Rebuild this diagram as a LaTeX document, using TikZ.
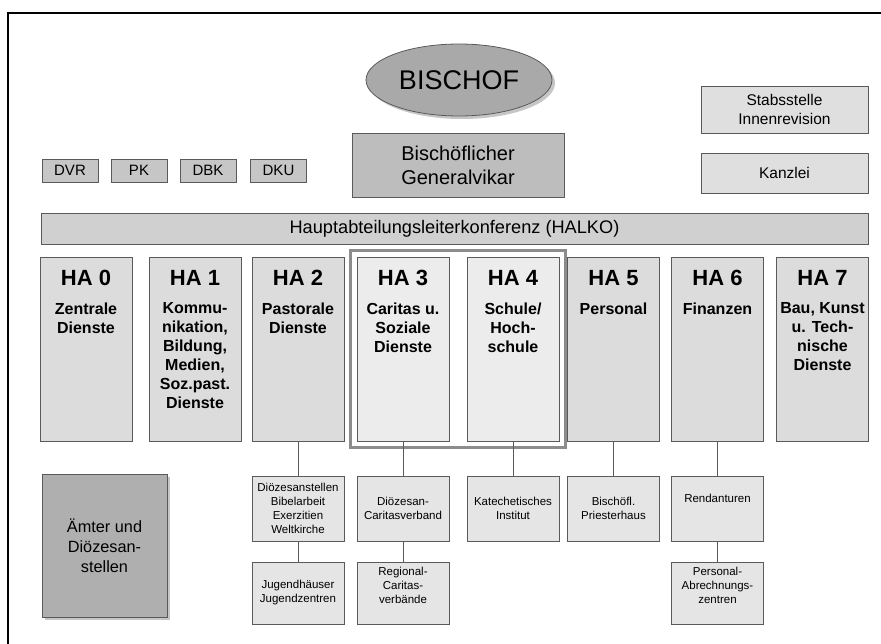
\documentclass[tikz,border=0pt]{standalone}
\usepackage{fontspec}
\setmainfont{Liberation Sans}
\usetikzlibrary{positioning,fit,shadows,shapes.geometric}
\definecolor{linegray}{HTML}{5A5A5A}
\definecolor{ovalgray}{HTML}{A9A9A9}
\definecolor{vikargray}{HTML}{BDBDBD}
\definecolor{kleingray}{HTML}{C6C6C6}
\definecolor{halkogray}{HTML}{D0D0D0}
\definecolor{stabgray}{HTML}{DFDFDF}
\definecolor{hagray}{HTML}{DCDCDC}
\definecolor{hallgray}{HTML}{ECECEC}
\definecolor{subgray}{HTML}{E5E5E5}
\definecolor{amtgray}{HTML}{AFAFAF}
\definecolor{framegray}{HTML}{8C8C8C}
\begin{document}
\begin{tikzpicture}[x=1pt,y=-1pt,
  box/.style={draw=linegray,line width=0.8pt,inner sep=0pt,align=center},
  kleinbox/.style={box,fill=kleingray,minimum width=56pt,minimum height=23pt,font=\fontsize{15}{18}\selectfont},
  stabbox/.style={box,fill=stabgray,minimum width=167pt,font=\fontsize{15.5}{19}\selectfont},
  habox/.style={box,fill=hagray,minimum width=92pt,minimum height=184pt},
  hatitle/.style={anchor=base,inner sep=0pt,font=\bfseries\fontsize{22}{26}\selectfont},
  hasub/.style={anchor=north,inner sep=0pt,align=center,font=\bfseries\fontsize{16}{19}\selectfont},
  subbox/.style={box,fill=subgray,minimum width=92pt,font=\fontsize{11.5}{14}\selectfont},
  link/.style={draw=linegray,line width=0.8pt}]
\useasboundingbox (0,0) rectangle (881,643);
\draw[line width=2pt] (8,13) rectangle (895,655);

\node[ellipse,draw=linegray,line width=0.8pt,fill=ovalgray,minimum width=186pt,minimum height=72pt,inner sep=0pt,
  drop shadow={shadow xshift=3pt,shadow yshift=-3pt,opacity=0.45},font=\fontsize{27}{30}\selectfont] (bischof) at (459,80) {BISCHOF};
\node[box,fill=vikargray,minimum width=212pt,minimum height=64pt,font=\fontsize{20}{24}\selectfont] (gv) at (458,165) {Bischöflicher\\Generalvikar};

\node[kleinbox] (dvr) at (70,170.5) {DVR};
\node[kleinbox] (pk) at (139,170.5) {PK};
\node[kleinbox] (dbk) at (208,170.5) {DBK};
\node[kleinbox] (dku) at (278.5,170.5) {DKU};

\node[stabbox,minimum height=47pt] (stab) at (784.5,109.5) {Stabsstelle\\Innenrevision};
\node[stabbox,minimum height=40pt] (kanzlei) at (784.5,173) {Kanzlei};

\node[box,fill=halkogray,minimum width=827pt,minimum height=31pt,font=\fontsize{18.2}{20}\selectfont] (halko) at (454.5,228.5) {Hauptabteilungsleiterkonferenz (HALKO)};

\node[habox] (ha0) at (86,349) {};
\node[hatitle] at (86,285) {HA 0};
\node[hasub] at (86,302.5) {Zentrale\\Dienste};
\node[habox] (ha1) at (195,349) {};
\node[hatitle] at (195,285) {HA 1};
\node[hasub] at (195,302.5) {Kommu-\\nikation,\\Bildung,\\Medien,\\Soz.past.\\Dienste};
\node[habox] (ha2) at (298,349) {};
\node[hatitle] at (298,285) {HA 2};
\node[hasub] at (298,302.5) {Pastorale\\Dienste};
\node[habox,fill=hallgray] (ha3) at (403,349) {};
\node[hatitle] at (403,285) {HA 3};
\node[hasub] at (403,302.5) {Caritas u.\\Soziale\\Dienste};
\node[habox,fill=hallgray] (ha4) at (513,349) {};
\node[hatitle] at (513,285) {HA 4};
\node[hasub] at (513,302.5) {Schule/\\Hoch-\\schule};
\node[habox] (ha5) at (613.5,349) {};
\node[hatitle] at (613.5,285) {HA 5};
\node[hasub] at (613.5,302.5) {Personal};
\node[habox] (ha6) at (717.5,349) {};
\node[hatitle] at (717.5,285) {HA 6};
\node[hasub] at (717.5,302.5) {Finanzen};
\node[habox] (ha7) at (822.5,349) {};
\node[hatitle] at (822.5,285) {HA 7};
\node[hasub] at (822.5,302.5) {Bau, Kunst\\u. Tech-\\nische\\Dienste};

\node[draw=framegray,line width=3pt,inner sep=6pt,fit=(ha3)(ha4)] (ha34) {};

\node[box,fill=amtgray,minimum width=125pt,minimum height=143pt,
  drop shadow={shadow xshift=3pt,shadow yshift=-3pt,opacity=0.45},font=\fontsize{16.3}{20}\selectfont] (amt) at (104.5,545.5) {Ämter und\\Diözesan-\\stellen};

\node[subbox,minimum height=65pt] (d2a) at (298,508.5) {Diözesanstellen\\Bibelarbeit\\Exerzitien\\Weltkirche};
\node[subbox,minimum height=65pt] (d3a) at (403,508.5) {Diözesan-\\Caritasverband};
\node[subbox,minimum height=65pt] (d4) at (513,508.5) {Katechetisches\\Institut};
\node[subbox,minimum height=65pt] (d5) at (613.5,508.5) {Bischöfl.\\Priesterhaus};
\node[subbox,minimum height=65pt] (d6a) at (717.5,508.5) {\raisebox{10pt}[\height][\depth]{Rendanturen}};
\node[subbox,minimum height=62pt] (d2b) at (298,593) {Jugendhäuser\\Jugendzentren};
\node[subbox,minimum height=62pt] (d3b) at (403,593) {\raisebox{8pt}[\height][\depth]{Regional-}\\\raisebox{8pt}[\height][\depth]{Caritas-}\\\raisebox{8pt}[\height][\depth]{verbände}};
\node[subbox,minimum height=62pt] (d6b) at (717.5,593) {\raisebox{8pt}[\height][\depth]{Personal-}\\\raisebox{8pt}[\height][\depth]{Abrechnungs-}\\\raisebox{8pt}[\height][\depth]{zentren}};

\draw[link] (ha2) -- (d2a);
\draw[link] (d2a) -- (d2b);
\draw[link] (ha3) -- (d3a);
\draw[link] (d3a) -- (d3b);
\draw[link] (ha4) -- (d4);
\draw[link] (ha5) -- (d5);
\draw[link] (ha6) -- (d6a);
\draw[link] (d6a) -- (d6b);
\end{tikzpicture}
\end{document}
